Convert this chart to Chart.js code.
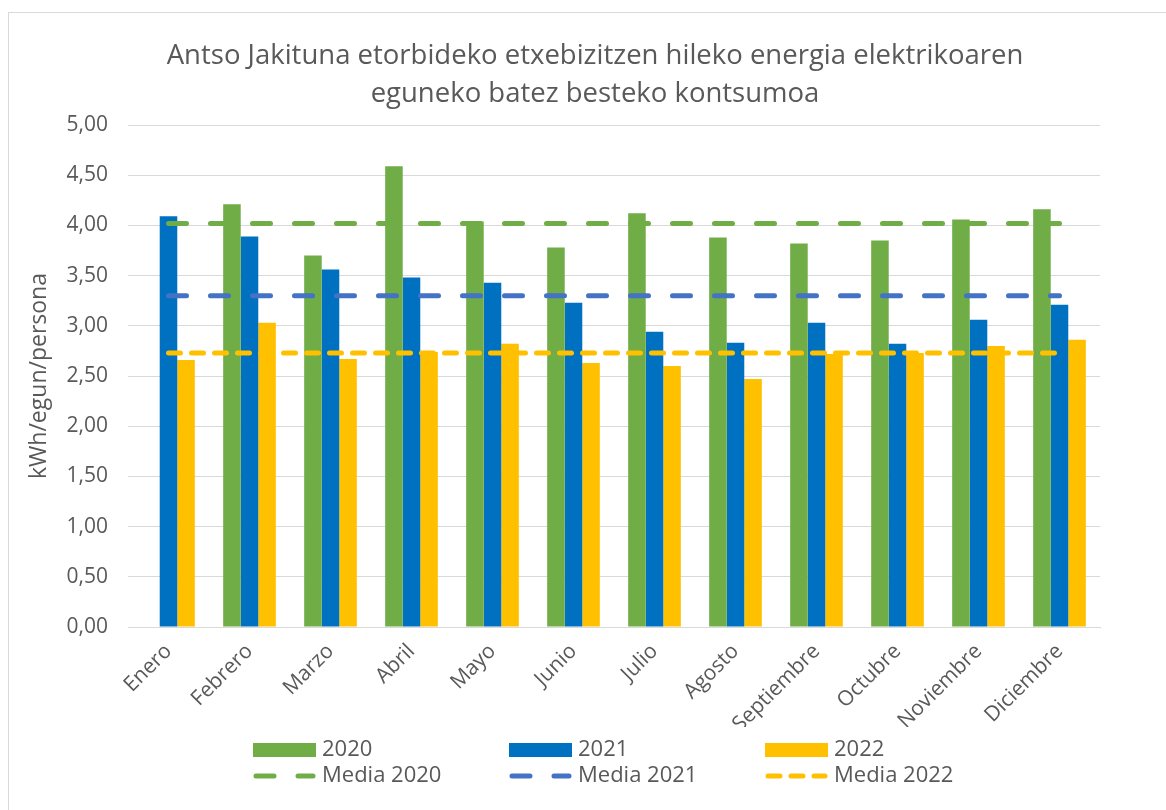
<!DOCTYPE html>
<html>
<head>
<meta charset="utf-8">
<script src="https://cdn.jsdelivr.net/npm/chart.js@4.4.1/dist/chart.umd.min.js"></script>
<style>
  html, body { margin: 0; padding: 0; background: #fff; overflow: hidden; }
  #wrap { position: relative; width: 1166px; height: 810px; }
  #frame { position: absolute; left: 8px; top: 12px; width: 1180px; height: 820px; border: 1px solid #d9d9d9; box-sizing: border-box; }
  canvas { position: absolute; left: 0; top: 0; }
</style>
</head>
<body>
<div id="wrap">
  <div id="frame"></div>
  <canvas id="chart" width="1166" height="810"></canvas>
</div>
<script>
const months = ['Enero', 'Febrero', 'Marzo', 'Abril', 'Mayo', 'Junio', 'Julio', 'Agosto', 'Septiembre', 'Octubre', 'Noviembre', 'Diciembre'];

const data2020 = [null, 4.21, 3.70, 4.59, 4.04, 3.78, 4.12, 3.88, 3.82, 3.85, 4.06, 4.16];
const data2021 = [4.09, 3.89, 3.56, 3.48, 3.43, 3.23, 2.94, 2.83, 3.03, 2.82, 3.06, 3.21];
const data2022 = [2.66, 3.03, 2.67, 2.74, 2.82, 2.63, 2.60, 2.47, 2.72, 2.73, 2.80, 2.86];

const media2020 = [4.02, 4.02, 4.02, 4.02, 4.02, 4.02, 4.02, 4.02, 4.02, 4.02, 4.02, 4.02];
const media2021 = [3.30, 3.30, 3.30, 3.30, 3.30, 3.30, 3.30, 3.30, 3.30, 3.30, 3.30, 3.30];
const media2022 = [2.73, 2.73, 2.73, 2.73, 2.73, 2.73, 2.73, 2.73, 2.73, 2.73, 2.73, 2.73];

const titleLines = ['Antso Jakituna etorbideko etxebizitzen hileko energia elektrikoaren', 'eguneko batez besteko kontsumoa'];
const yTitle = 'kWh/egun/persona';

const GREEN = '#70ad47';
const BLUE = '#0070c0';
const BLUE_LINE = '#4472c4';
const YELLOW = '#ffc000';
const TEXT = '#595959';
const GRID = '#d9d9d9';
const FONT = "'Open Sans', sans-serif";

// title is centred on the whole frame, not on the plot area
const frameTitle = {
    id: 'frameTitle',
    afterDraw(chart) {
        const ctx = chart.ctx;
        ctx.save();
        ctx.font = '27.5px ' + FONT;
        ctx.fillStyle = TEXT;
        ctx.textAlign = 'center';
        ctx.textBaseline = 'middle';
        ctx.fillText(titleLines[0], 595, 56);
        ctx.fillText(titleLines[1], 595, 94);
        ctx.restore();
    }
};

// legend drawn as a 3 column grid below the axis
const gridLegend = {
    id: 'gridLegend',
    afterDraw(chart) {
        const ctx = chart.ctx;
        const colX = [253, 509, 765];
        const rowY = [750, 776];
        ctx.save();
        ctx.font = '22px ' + FONT;
        ctx.textBaseline = 'middle';
        chart.data.datasets.forEach((ds, i) => {
            const x = colX[i % 3];
            const y = rowY[Math.floor(i / 3)];
            if (ds.type === 'line') {
                ctx.save();
                ctx.strokeStyle = ds.borderColor;
                ctx.lineWidth = ds.borderWidth;
                ctx.lineCap = 'round';
                ctx.setLineDash(ds.borderDash);
                ctx.beginPath();
                ctx.moveTo(x + 3, y);
                ctx.lineTo(x + 60, y);
                ctx.stroke();
                ctx.restore();
            } else {
                ctx.fillStyle = ds.backgroundColor;
                ctx.fillRect(x, y - 7, 63, 14);
            }
            ctx.fillStyle = TEXT;
            ctx.fillText(ds.label, x + 69, y);
        });
        ctx.restore();
    }
};

function barSet(label, values, color) {
    return { type: 'bar', label: label, data: values, backgroundColor: color, order: 2,
             categoryPercentage: 0.65, barPercentage: 1.0 };
}

function meanSet(label, values, color, dash) {
    return { type: 'line', label: label, data: values, borderColor: color, borderWidth: 5,
             borderDash: dash, borderCapStyle: 'round', pointRadius: 0, fill: false, order: 1 };
}

const ctx = document.getElementById('chart').getContext('2d');
new Chart(ctx, {
    data: {
        labels: months,
        datasets: [
            barSet('2020', data2020, GREEN),
            barSet('2021', data2021, BLUE),
            barSet('2022', data2022, YELLOW),
            meanSet('Media 2020', media2020, GREEN, [18, 24]),
            meanSet('Media 2021', media2021, BLUE_LINE, [18, 24]),
            meanSet('Media 2022', media2022, YELLOW, [12, 11])
        ]
    },
    options: {
        responsive: false,
        animation: false,
        layout: { padding: { left: 0, right: 66, top: 125, bottom: 83 } },
        plugins: {
            legend: { display: false },
            tooltip: { enabled: false },
            title: { display: false }
        },
        scales: {
            x: {
                grid: { display: false },
                border: { display: true, color: GRID, width: 1 },
                ticks: { color: TEXT, font: { family: FONT, size: 21 }, minRotation: 45, maxRotation: 45, padding: 4 },
                afterFit(scale) { scale.height = 100; }
            },
            y: {
                min: 0,
                max: 5,
                grid: { color: GRID, lineWidth: 1, drawTicks: false },
                border: { display: false },
                ticks: {
                    stepSize: 0.5,
                    color: TEXT,
                    padding: 20,
                    font: { family: FONT, size: 21 },
                    callback: (v) => v.toFixed(2).replace('.', ',')
                },
                title: { display: true, text: yTitle, color: TEXT, font: { family: FONT, size: 23 }, padding: { top: 26, bottom: 0 } },
                afterFit(scale) { scale.width = 128; }
            }
        }
    },
    plugins: [gridLegend, frameTitle]
});
</script>
</body>
</html>
